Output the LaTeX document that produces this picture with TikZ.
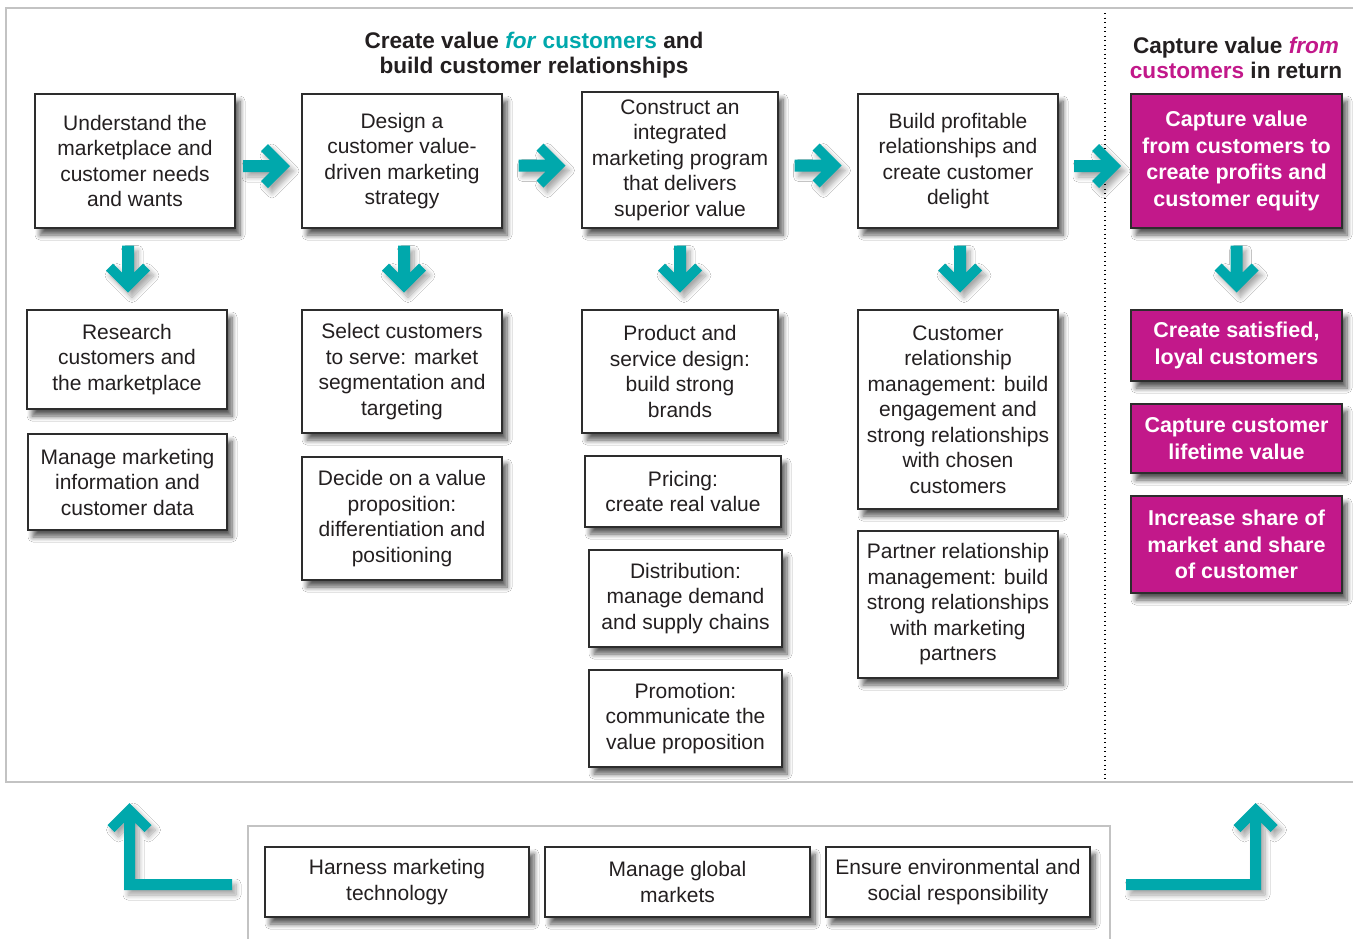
\documentclass[tikz,border=0pt]{standalone}
\usepackage{fontspec}
\setmainfont{Liberation Sans}
\usetikzlibrary{calc,shadows.blur}

\definecolor{brandteal}{RGB}{0,168,172}
\definecolor{brandmag}{RGB}{194,24,138}
\definecolor{ink}{RGB}{35,31,32}
\definecolor{boxline}{RGB}{45,45,45}
\definecolor{framegray}{RGB}{195,195,195}

\newcommand{\bodyfont}{\fontsize{21}{25.5}\selectfont}
\newcommand{\magfont}{\fontsize{21.5}{26.6}\selectfont\bfseries}
\newcommand{\headfont}{\fontsize{22.6}{25}\selectfont\bfseries}

\tikzset{
  x=1pt, y=-1pt,
  softshadow/.style={blur shadow={shadow xshift=5pt, shadow yshift=-7pt,
      shadow blur radius=5pt, shadow blur steps=8, shadow opacity=65}},
  lightshadow/.style={blur shadow={shadow xshift=4pt, shadow yshift=-5pt,
      shadow blur radius=5pt, shadow blur steps=8, shadow opacity=35}},
  box/.style={draw=boxline, line width=1.1pt, fill=white, inner sep=0pt,
      align=center, font=\bodyfont, text=ink, softshadow},
  magbox/.style={box, fill=brandmag, text=white, font=\magfont},
  sz/.style 2 args={minimum width=#1pt, minimum height=#2pt},
  framerule/.style={draw=framegray, line width=1.2pt},
  fatarrow/.pic={
    \fill[brandteal, lightshadow]
      (23.5,0) -- (1.5,-22) -- (-5.5,-15) -- (3.5,-6) -- (-23.5,-6)
      -- (-23.5,6) -- (3.5,6) -- (-5.5,15) -- (1.5,22) -- cycle;
  }
}

\begin{document}
\begin{tikzpicture}
\useasboundingbox (0,0) rectangle (1353,938);
\clip (0,0) rectangle (1353,938);
\fill[white] (0,0) rectangle (1353,938);

% outer frame of the value-creation area and the dotted divider
\draw[framerule] (1370,8) -- (6,8) -- (6,782) -- (1370,782);
\draw[black, line width=1.3pt, dash pattern=on 1.3pt off 3.2pt] (1105,13) -- (1105,782);

% panel holding the three extra topics
\draw[framerule] (248,950) -- (248,826) -- (1110,826) -- (1110,950);

% column headings
\node[font=\headfont, text=ink, align=center] (headL) at (534,55)
  {Create value \textcolor{brandteal}{\itshape for\/ \upshape customers} and\\build customer relationships};
\node[font=\headfont, text=ink, align=center] (headR) at (1236,58)
  {Capture value \textcolor{brandmag}{\itshape from}\\\textcolor{brandmag}{customers} in return};

% top row of steps
\node[box, sz={200}{134}] (A1) at (135,161) {Understand the\\marketplace and\\customer needs\\and wants};
\node[box, sz={200}{134}] (B1) at (402,161) {Design a\\customer value-\\driven marketing\\strategy};
\node[box, sz={196}{136}] (C1) at (680,160) {Construct an\\integrated\\marketing program\\that delivers\\superior value};
\node[box, sz={200}{134}] (D1) at (958,161) {Build profitable\\relationships and\\create customer\\delight};
\node[magbox, sz={211}{134}] (E1) at (1236.5,161) {Capture value\\from customers to\\create profits and\\customer equity};

% column A details
\node[box, sz={200}{99}] (A2) at (127,359.5) {Research\\customers and\\the marketplace};
\node[box, sz={199}{96}] (A3) at (127.5,482) {Manage marketing\\information and\\customer data};

% column B details
\node[box, sz={200}{123}] (B2) at (402,371.5) {Select customers\\to serve: market\\segmentation and\\targeting};
\node[box, sz={200}{123}] (B3) at (402,518.5) {Decide on a value\\proposition:\\differentiation and\\positioning};

% column C details
\node[box, sz={196}{123}] (C2) at (680,371.5) {Product and\\service design:\\build strong\\brands};
\node[box, sz={196}{71}] (C3) at (683,491.5) {Pricing:\\create real value};
\node[box, sz={193}{97}] (C4) at (685.5,598.5) {Distribution:\\manage demand\\and supply chains};
\node[box, sz={193}{97}] (C5) at (685.5,718.5) {Promotion:\\communicate the\\value proposition};

% column D details
\node[box, sz={200}{199}] (D2) at (958,409.5) {Customer\\relationship\\management: build\\engagement and\\strong relationships\\with chosen\\customers};
\node[box, sz={200}{147}] (D3) at (958,604.5) {Partner relationship\\management: build\\strong relationships\\with marketing\\partners};

% column E outcomes
\node[magbox, sz={211}{71}] (E2) at (1236.5,345.5) {Create satisfied,\\loyal customers};
\node[magbox, sz={211}{69}] (E3) at (1236.5,438.5) {Capture customer\\lifetime value};
\node[magbox, sz={211}{97}] (E4) at (1236.5,544.5) {Increase share of\\market and share\\of customer};

% bottom topics
\node[box, sz={264}{70}] (F1) at (397,882) {Harness marketing\\technology};
\node[box, sz={265}{70}] (F2) at (677.5,882) {Manage global\\markets};
\node[box, sz={264}{70}] (F3) at (958,882) {Ensure environmental and\\social responsibility};

% arrows along the top row
\pic at ($(A1.east)!0.5!(B1.west)+(-2,5)$) {fatarrow};
\pic at ($(B1.east)!0.5!(C1.west)+(0,5)$) {fatarrow};
\pic at ($(C1.east)!0.5!(D1.west)+(0,5)$) {fatarrow};
\pic at ($(D1.east)!0.5!(E1.west)+(3,5)$) {fatarrow};

% arrows down each column
\pic[rotate=-90] at ($(A2.north)!0.5!(A2.north|-A1.south)+(1,0)$) {fatarrow};
\pic[rotate=-90] at ($(B2.north)!0.5!(B2.north|-B1.south)+(2,0)$) {fatarrow};
\pic[rotate=-90] at ($(C2.north)!0.5!(C2.north|-C1.south)$) {fatarrow};
\pic[rotate=-90] at ($(D2.north)!0.5!(D2.north|-D1.south)+(2,0)$) {fatarrow};
\pic[rotate=-90] at ($(E2.north)!0.5!(E2.north|-E1.south)$) {fatarrow};

% elbow arrows from the bottom panel back up into the frame
\fill[brandteal, lightshadow]
  (129.5,803) -- (107.5,825) -- (114.5,832) -- (124,822.5) -- (124,890)
  -- (232,890) -- (232,879) -- (135,879) -- (135,822.5) -- (144.5,832)
  -- (151.5,825) -- cycle;
\fill[brandteal, lightshadow]
  (1255.5,803) -- (1277.5,825) -- (1270.5,832) -- (1261,822.5) -- (1261,890)
  -- (1126,890) -- (1126,879) -- (1250,879) -- (1250,822.5) -- (1240.5,832)
  -- (1233.5,825) -- cycle;
\end{tikzpicture}
\end{document}
